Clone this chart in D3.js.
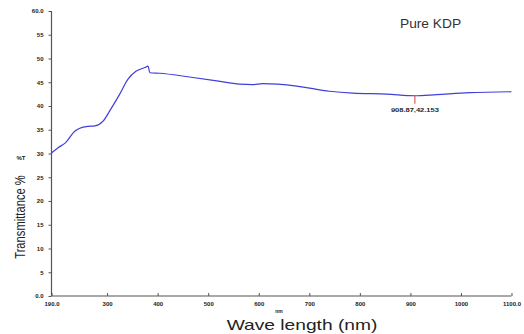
<!DOCTYPE html>
<html>
<head>
<meta charset="utf-8">
<script src="https://cdn.jsdelivr.net/npm/d3@7"></script>
<style>
  html, body { margin: 0; padding: 0; background: #fff; }
  svg { display: block; font-family: "Liberation Sans", Arial, sans-serif; }
</style>
</head>
<body>
<svg id="chart" width="524" height="334"></svg>
<script>
// Transmittance spectrum of pure KDP (wavelength in nm, %T)
const wavelength = [190, 203, 218, 236, 246, 262, 276, 292, 307, 325, 341, 357, 375, 381, 384.5, 404, 463, 517, 562, 588, 608, 675, 740, 786, 853, 908.87, 952, 1017, 1100];
const transmittance = [30.1, 31.2, 32.3, 34.7, 35.3, 35.7, 35.8, 36.8, 39.3, 42.5, 45.6, 47.3, 48.1, 48.4, 47.0, 46.9, 46.1, 45.3, 44.6, 44.5, 44.7, 44.2, 43.1, 42.7, 42.5, 42.153, 42.4, 42.8, 43.0];

const xTicks = [190, 300, 400, 500, 600, 700, 800, 900, 1000, 1100];
const xTickLabels = ["190.0", "300", "400", "500", "600", "700", "800", "900", "1000", "1100.0"];
const yTicks = [0, 5, 10, 15, 20, 25, 30, 35, 40, 45, 50, 55, 60];
const yTickLabels = ["0.0", "5", "10", "15", "20", "25", "30", "35", "40", "45", "50", "55", "60.0"];

const peakPick = { x: 908.87, y: 42.153, label: "908.87,42.153" };

const svg = d3.select("#chart");
const x = d3.scaleLinear().domain([190, 1100]).range([51.5, 511.5]);
const y = d3.scaleLinear().domain([0, 60]).range([296, 11]);

// y axis: ticks point outward to the left
const yAxis = d3.axisLeft(y)
  .tickValues(yTicks)
  .tickFormat((d, i) => yTickLabels[i])
  .tickSize(3).tickPadding(5);
const gy = svg.append("g").attr("transform", `translate(${x.range()[0]},0)`).call(yAxis);
gy.select(".domain").attr("stroke", "#555").attr("stroke-width", 1.2).attr("d", `M0,${y(60)}V${y(0)}`);
gy.selectAll(".tick line").attr("stroke", "#555");
gy.selectAll(".tick text").attr("font-size", 6).attr("font-weight", "bold").attr("fill", "#222");

// x axis: ticks point inward (up)
const xAxis = d3.axisBottom(x)
  .tickValues(xTicks)
  .tickFormat((d, i) => xTickLabels[i])
  .tickSize(-3).tickPadding(5);
const gx = svg.append("g").attr("transform", `translate(0,${y(0)})`).call(xAxis);
gx.select(".domain").attr("stroke", "#555").attr("stroke-width", 1.2).attr("d", `M${x.range()[0]},0H${x.range()[1]}`);
gx.selectAll(".tick line").attr("stroke", "#555");
gx.selectAll(".tick text").attr("font-size", 6).attr("font-weight", "bold").attr("fill", "#222").attr("dy", "0.9em");

// spectrum curve
const pts = wavelength.map((w, i) => [w, transmittance[i]]);
svg.append("path")
  .datum(pts)
  .attr("fill", "none")
  .attr("stroke", "#3f3fd9")
  .attr("stroke-width", 1.2)
  .attr("d", d3.line().x(d => x(d[0])).y(d => y(d[1])).curve(d3.curveMonotoneX));

// picked point marker
svg.append("line")
  .attr("x1", x(peakPick.x)).attr("x2", x(peakPick.x))
  .attr("y1", y(peakPick.y)).attr("y2", y(peakPick.y) + 8)
  .attr("stroke", "#d04040").attr("stroke-width", 1);
svg.append("text")
  .attr("transform", `translate(${x(peakPick.x)},${y(peakPick.y) + 16}) scale(1.25,1)`)
  .attr("text-anchor", "middle").attr("font-size", 6).attr("font-weight", "bold").attr("fill", "#222")
  .text(peakPick.label);

// labels
svg.append("text").attr("transform", "translate(400,28) scale(1.1,1)")
  .attr("font-size", 12.5).attr("fill", "#333").text("Pure KDP");
svg.append("text").attr("x", 21).attr("y", 160).attr("text-anchor", "middle")
  .attr("font-size", 6).attr("font-weight", "bold").attr("fill", "#222").text("%T");
svg.append("text").attr("x", 279).attr("y", 313).attr("text-anchor", "middle")
  .attr("font-size", 5).attr("font-weight", "bold").attr("fill", "#222").text("nm");
svg.append("text").attr("transform", "translate(302,330) scale(1.28,1)").attr("text-anchor", "middle")
  .attr("font-size", 15).attr("fill", "#222").text("Wave length (nm)");
svg.append("text").attr("transform", "translate(25,217) rotate(-90) scale(0.83,1.05)").attr("text-anchor", "middle")
  .attr("font-size", 13.5).attr("fill", "#222").text("Transmittance %");
</script>
</body>
</html>
